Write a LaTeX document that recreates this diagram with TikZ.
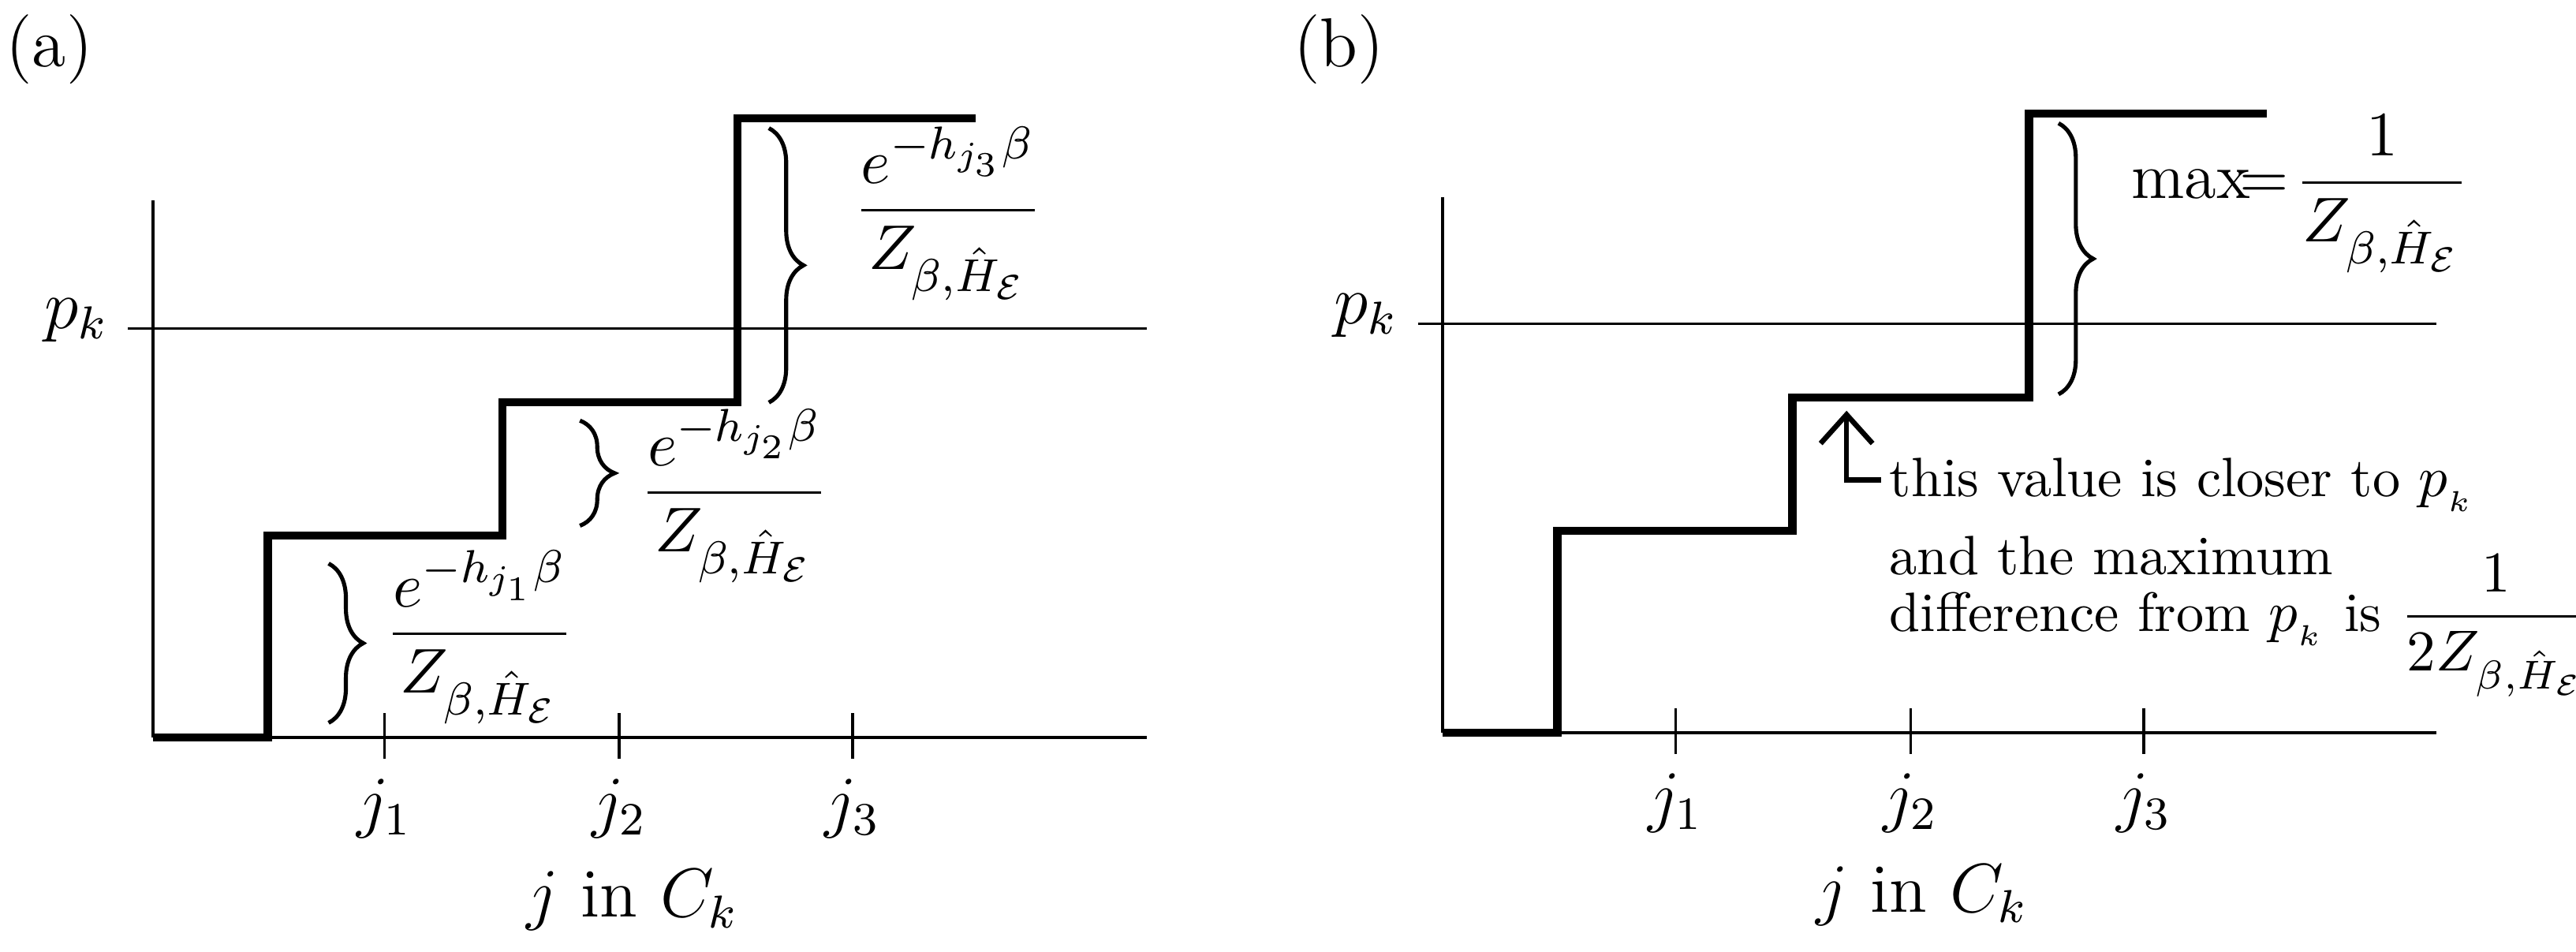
\documentclass[tikz,border=0pt]{standalone}
\usepackage{amsmath}
\usetikzlibrary{decorations.pathreplacing,arrows.meta}
\begin{document}
\begin{tikzpicture}[x=0.1mm,y=-0.1mm,
  ax/.style={line width=0.5pt},
  stair/.style={line width=1.4pt},
  br/.style={decorate,decoration={brace,amplitude=6pt},line width=0.7pt},
  lab/.style={font=\fontsize{12}{14}\selectfont,inner sep=1pt},
  frc/.style={font=\fontsize{11.3}{13}\selectfont,inner sep=1pt},
  txt/.style={font=\fontsize{9.6}{12}\selectfont,inner sep=1pt,anchor=west}]
\useasboundingbox (0,0) rectangle (1568,579);
% panel a
\node[lab] (la) at (30,30) {(a)};
\coordinate (ya0) at (93,449); \coordinate (ya1) at (93,122);
\coordinate (xa1) at (698,449); \coordinate (pa0) at (78,200); \coordinate (pa1) at (698,200);
\draw[ax] (ya0)--(ya1); \draw[ax] (ya0)--(xa1); \draw[ax] (pa0)--(pa1);
\node[lab,anchor=east] (pka) at (70,195) {$p_k$};
\draw[stair] (93,449)--(163,449)--(163,326)--(306,326)--(306,245)--(449,245)--(449,72)--(594,72);
\foreach \x/\n in {234/1,377/2,519/3}{
  \draw[ax] (\x,434)--(\x,462);
  \node[lab] (ja\n) at (\x,492) {$j_\n$};}
\node[lab] (jca) at (385,548) {$j$ in $C_k$};
\draw[br] (200,343)--(200,440);
\draw[br] (353,256)--(353,320);
\draw[br] (468,78)--(468,245);
\node[frc] (fa1) at (292,388) {$\dfrac{e^{-h_{j_1}\beta}}{Z_{\beta,\hat H_{\mathcal E}}}$};
\node[frc] (fa2) at (447,302) {$\dfrac{e^{-h_{j_2}\beta}}{Z_{\beta,\hat H_{\mathcal E}}}$};
\node[frc] (fa3) at (577,130) {$\dfrac{e^{-h_{j_3}\beta}}{Z_{\beta,\hat H_{\mathcal E}}}$};
% panel b
\node[lab] (lb) at (815,30) {(b)};
\coordinate (yb0) at (878,446); \coordinate (yb1) at (878,120);
\coordinate (xb1) at (1483,446); \coordinate (pb0) at (863,197); \coordinate (pb1) at (1483,197);
\draw[ax] (yb0)--(yb1); \draw[ax] (yb0)--(xb1); \draw[ax] (pb0)--(pb1);
\node[lab,anchor=east] (pkb) at (855,192) {$p_k$};
\draw[stair] (878,446)--(948,446)--(948,323)--(1091,323)--(1091,242)--(1235,242)--(1235,69)--(1380,69);
\foreach \x/\n in {1020/1,1163/2,1305/3}{
  \draw[ax] (\x,431)--(\x,459);
  \node[lab] (jb\n) at (\x,489) {$j_\n$};}
\node[lab] (jcb) at (1170,545) {$j$ in $C_k$};
\draw[br] (1253,75)--(1253,240);
\node[frc,anchor=west] (mx) at (1293,118) {max$\!=\!\dfrac{1}{Z_{\beta,\hat H_{\mathcal E}}}$};
\coordinate (ar0) at (1124,250); \coordinate (ar1) at (1145,292);
\draw[line width=0.9pt,-{Straight Barb[length=5pt,width=9pt]}] (ar1)-|(ar0);
\node[txt] (t1) at (1146,295) {this value is closer to $p_{_k}$};
\node[txt] (t2) at (1146,338) {and the maximum};
\node[txt] (t3) at (1146,381) {difference from $p_{_k}$ is $\dfrac{1}{2Z_{\beta,\hat H_{\mathcal E}}}$};
\end{tikzpicture}
\end{document}
